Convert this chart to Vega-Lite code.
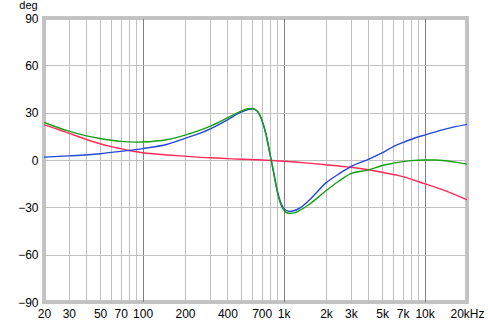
{
  "$schema": "https://vega.github.io/schema/vega-lite/v6.json",
  "width": 423,
  "height": 284,
  "autosize": {"type": "none"},
  "padding": {"left": 44, "top": 18, "right": 21, "bottom": 24},
  "background": "white",
  "config": {
    "font": "Liberation Sans",
    "view": {"stroke": "#c4c4c4", "strokeWidth": 4}
  },
  "datasets": {
    "curves": [
      {"f": 20, "v": 22.3, "s": "A"}, {"f": 25, "v": 19.5, "s": "A"}, {"f": 30, "v": 17, "s": "A"},
      {"f": 40, "v": 13, "s": "A"}, {"f": 50, "v": 10.3, "s": "A"}, {"f": 60, "v": 8.5, "s": "A"},
      {"f": 70, "v": 7.2, "s": "A"}, {"f": 80, "v": 6, "s": "A"}, {"f": 100, "v": 4.6, "s": "A"},
      {"f": 150, "v": 3.2, "s": "A"}, {"f": 200, "v": 2.4, "s": "A"}, {"f": 300, "v": 1.4, "s": "A"},
      {"f": 400, "v": 0.9, "s": "A"}, {"f": 500, "v": 0.5, "s": "A"}, {"f": 700, "v": 0, "s": "A"},
      {"f": 1000, "v": -0.8, "s": "A"}, {"f": 1500, "v": -2, "s": "A"}, {"f": 2000, "v": -3, "s": "A"},
      {"f": 3000, "v": -4.6, "s": "A"}, {"f": 4000, "v": -6.2, "s": "A"}, {"f": 5000, "v": -7.8, "s": "A"},
      {"f": 7000, "v": -10.5, "s": "A"}, {"f": 10000, "v": -15, "s": "A"}, {"f": 15000, "v": -20.5, "s": "A"},
      {"f": 20000, "v": -25.2, "s": "A"},

      {"f": 20, "v": 1.8, "s": "B"}, {"f": 30, "v": 2.6, "s": "B"}, {"f": 50, "v": 4, "s": "B"},
      {"f": 70, "v": 5.5, "s": "B"}, {"f": 100, "v": 7.2, "s": "B"}, {"f": 150, "v": 10, "s": "B"},
      {"f": 200, "v": 13.7, "s": "B"}, {"f": 300, "v": 19.6, "s": "B"}, {"f": 400, "v": 25.5, "s": "B"},
      {"f": 500, "v": 30.3, "s": "B"}, {"f": 560, "v": 32, "s": "B"}, {"f": 600, "v": 32.4, "s": "B"},
      {"f": 650, "v": 31, "s": "B"}, {"f": 700, "v": 25.5, "s": "B"}, {"f": 750, "v": 16.5, "s": "B"},
      {"f": 800, "v": 4, "s": "B"}, {"f": 850, "v": -7.5, "s": "B"}, {"f": 900, "v": -19, "s": "B"},
      {"f": 950, "v": -26.5, "s": "B"}, {"f": 1000, "v": -30.5, "s": "B"}, {"f": 1100, "v": -32.6, "s": "B"},
      {"f": 1200, "v": -32, "s": "B"}, {"f": 1300, "v": -30.5, "s": "B"}, {"f": 1500, "v": -26, "s": "B"},
      {"f": 2000, "v": -14.5, "s": "B"}, {"f": 2500, "v": -8.5, "s": "B"}, {"f": 3000, "v": -4.2, "s": "B"},
      {"f": 4000, "v": 0.4, "s": "B"}, {"f": 5000, "v": 4.5, "s": "B"}, {"f": 6000, "v": 8.5, "s": "B"},
      {"f": 7000, "v": 11, "s": "B"}, {"f": 8000, "v": 13, "s": "B"}, {"f": 10000, "v": 15.8, "s": "B"},
      {"f": 14000, "v": 19.6, "s": "B"}, {"f": 20000, "v": 22.6, "s": "B"},

      {"f": 20, "v": 23.8, "s": "C"}, {"f": 30, "v": 18.3, "s": "C"}, {"f": 40, "v": 15.3, "s": "C"},
      {"f": 50, "v": 13.6, "s": "C"}, {"f": 70, "v": 11.8, "s": "C"}, {"f": 90, "v": 11.3, "s": "C"},
      {"f": 100, "v": 11.4, "s": "C"}, {"f": 150, "v": 13, "s": "C"}, {"f": 200, "v": 15.8, "s": "C"},
      {"f": 300, "v": 21.3, "s": "C"}, {"f": 400, "v": 26.7, "s": "C"}, {"f": 500, "v": 31, "s": "C"},
      {"f": 560, "v": 32.5, "s": "C"}, {"f": 600, "v": 32.6, "s": "C"}, {"f": 650, "v": 31, "s": "C"},
      {"f": 700, "v": 25.5, "s": "C"}, {"f": 750, "v": 16.5, "s": "C"}, {"f": 800, "v": 4, "s": "C"},
      {"f": 850, "v": -8, "s": "C"}, {"f": 900, "v": -19.5, "s": "C"}, {"f": 950, "v": -27.5, "s": "C"},
      {"f": 1000, "v": -31.5, "s": "C"}, {"f": 1100, "v": -33.8, "s": "C"}, {"f": 1200, "v": -33.5, "s": "C"},
      {"f": 1300, "v": -32, "s": "C"}, {"f": 1500, "v": -28.5, "s": "C"}, {"f": 2000, "v": -19.5, "s": "C"},
      {"f": 2500, "v": -13, "s": "C"}, {"f": 3000, "v": -8.7, "s": "C"}, {"f": 4000, "v": -6.3, "s": "C"},
      {"f": 5000, "v": -3.5, "s": "C"}, {"f": 6000, "v": -2, "s": "C"}, {"f": 7000, "v": -1, "s": "C"},
      {"f": 8000, "v": -0.4, "s": "C"}, {"f": 10000, "v": 0, "s": "C"}, {"f": 12000, "v": 0, "s": "C"},
      {"f": 14000, "v": -0.5, "s": "C"}, {"f": 17000, "v": -1.5, "s": "C"}, {"f": 20000, "v": -2.6, "s": "C"}
    ]
  },
  "data": {"name": "curves"},
  "mark": {"type": "line", "interpolate": "monotone", "strokeWidth": 1.4, "clip": true},
  "encoding": {
    "x": {
      "field": "f",
      "type": "quantitative",
      "scale": {"type": "log", "domain": [20, 20000], "nice": false},
      "axis": {
        "title": null,
        "values": [20,30,40,50,60,70,80,90,100,200,300,400,500,600,700,800,900,1000,2000,3000,4000,5000,6000,7000,8000,9000,10000,20000],
        "labelExpr": "indexof([20,30,50,70,100,200,400,700,1000,2000,3000,5000,7000,10000,20000], datum.value) < 0 ? '' : (datum.value == 20000 ? '20kHz' : (datum.value >= 1000 ? (datum.value/1000) + 'k' : '' + datum.value))",
        "labelOverlap": false,
        "labelBound": false,
        "labelFlush": false,
        "ticks": false,
        "domain": false,
        "labelPadding": 6,
        "labelFontSize": 12,
        "labelColor": "#000000",
        "grid": true,
        "gridColor": {"condition": {"test": "indexof([100,1000,10000], datum.value) >= 0", "value": "#808080"}, "value": "#c0c0c0"},
        "gridWidth": 1,
        "gridOpacity": 1
      }
    },
    "y": {
      "field": "v",
      "type": "quantitative",
      "scale": {"domain": [-90, 90], "nice": false},
      "axis": {
        "values": [-90,-60,-30,0,30,60,90],
        "title": "deg",
        "titleAngle": 0,
        "titleAlign": "center",
        "titleBaseline": "alphabetic",
        "titleX": -16,
        "titleY": -9.5,
        "titleFontSize": 11,
        "titleFontWeight": "normal",
        "titleColor": "#000000",
        "ticks": false,
        "domain": false,
        "labelPadding": 6,
        "labelFontSize": 12,
        "labelColor": "#000000",
        "grid": true,
        "gridColor": "#c0c0c0",
        "gridOpacity": 1
      }
    },
    "color": {
      "field": "s",
      "type": "nominal",
      "scale": {"domain": ["A", "B", "C"], "range": ["#ff2a5a", "#2348d8", "#16a016"]},
      "legend": null
    }
  }
}
